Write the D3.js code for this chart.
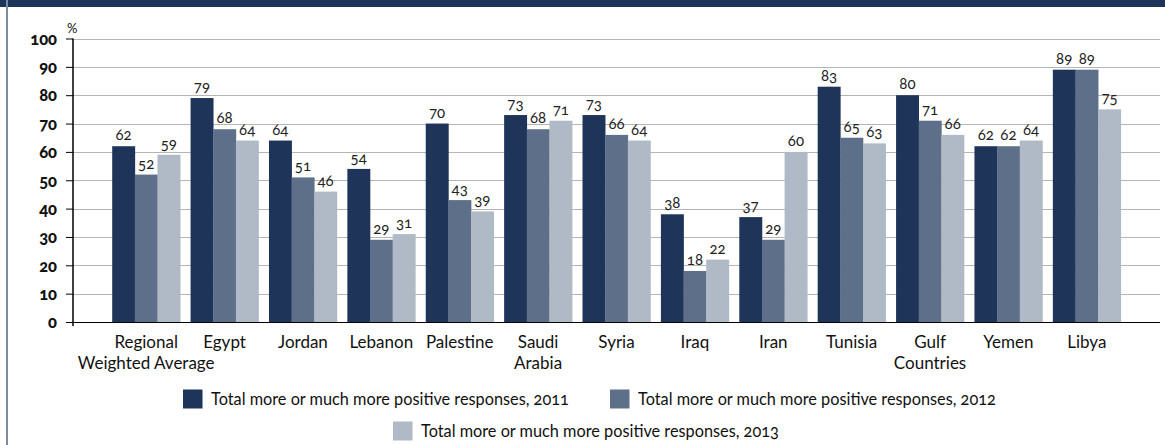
<!DOCTYPE html>
<html><head><meta charset="utf-8">
<script src="https://cdn.jsdelivr.net/npm/d3@7"></script>
<style>
body{margin:0;background:#fff;}
svg{display:block;font-family:Lato, "Open Sans", sans-serif;}
.num{font-variant-numeric:oldstyle-nums;font-feature-settings:"onum" 1;}
</style></head><body>
<svg id="c" width="1165" height="445"></svg>
<script>
const categories = [["Regional","Weighted Average"],["Egypt"],["Jordan"],["Lebanon"],["Palestine"],["Saudi","Arabia"],["Syria"],["Iraq"],["Iran"],["Tunisia"],["Gulf","Countries"],["Yemen"],["Libya"]];
const v2011 = [62,79,64,54,70,73,73,38,37,83,80,62,89];
const v2012 = [52,68,51,29,43,68,66,18,29,65,71,62,89];
const v2013 = [59,64,46,31,39,71,64,22,60,63,66,64,75];
const seriesNames = ["Total more or much more positive responses, 2011","Total more or much more positive responses, 2012","Total more or much more positive responses, 2013"];
const yTicks = [0,10,20,30,40,50,60,70,80,90,100];
const colors = ["#1f3459","#5e6f8a","#b0b9c6"];

const svg = d3.select("#c");
// frame
svg.append("rect").attr("x",0).attr("y",0).attr("width",1165).attr("height",7).attr("fill","#1f3459");
svg.append("line").attr("x1",7).attr("x2",7).attr("y1",0).attr("y2",445).attr("stroke","#7d8ba3").attr("stroke-width",2);

const series = [v2011,v2012,v2013];
const x = d3.scaleBand().domain(d3.range(categories.length)).range([73,1160]).paddingInner(0.133).paddingOuter(0.5);
const xs = d3.scaleBand().domain([0,1,2]).range([0,x.bandwidth()]);
const y = d3.scaleLinear().domain([0,100]).range([322,38.5]);

// gridlines
svg.append("g").selectAll("line").data(yTicks.filter(d=>d>0)).join("line")
  .attr("x1",73).attr("x2",1160).attr("y1",d=>Math.round(y(d))+0.5).attr("y2",d=>Math.round(y(d))+0.5)
  .attr("stroke","#b5b5b5").attr("stroke-width",1);

// bars
const g = svg.append("g");
series.forEach((vals,si)=>{
  g.append("g").selectAll("rect").data(vals).join("rect")
    .attr("x",(d,i)=>x(i)+xs(si)).attr("width",xs.bandwidth()+0.3)
    .attr("y",d=>y(d)).attr("height",d=>y(0)-y(d)).attr("fill",colors[si]);
  g.append("g").selectAll("text").data(vals).join("text").attr("class","num")
    .attr("x",(d,i)=>x(i)+xs(si)+xs.bandwidth()/2).attr("y",d=>y(d)-6)
    .attr("text-anchor","middle").attr("font-size",15).attr("fill","#222").text(d=>d);
});

// y axis
const yAxis = d3.axisLeft(y).tickValues(yTicks).tickSize(7).tickPadding(9);
const ya = svg.append("g").attr("transform","translate(73,0)").call(yAxis);
ya.select(".domain").attr("d","M0,38.5V326").attr("stroke","#000").attr("stroke-width",1.5);
ya.selectAll(".tick line").attr("stroke","#000");
ya.selectAll(".tick text").attr("class","num").attr("font-family","Lato, sans-serif").attr("font-weight","900").attr("font-size",16.5).attr("fill","#111").attr("dy","0.35em");
svg.append("text").attr("x",67).attr("y",33).attr("font-size",13).attr("fill","#111").text("%");

// x baseline
svg.append("line").attr("x1",66).attr("x2",1160).attr("y1",y(0)+0.5).attr("y2",y(0)+0.5).attr("stroke","#000").attr("stroke-width",1.2);

// category labels
const cl = svg.append("g").selectAll("text").data(categories).join("text")
  .attr("x",(d,i)=>x(i)+x.bandwidth()/2).attr("y",348).attr("text-anchor","middle")
  .attr("font-size",17).attr("fill","#111");
cl.selectAll("tspan").data(d=>d).join("tspan").attr("x",function(){return this.parentNode.getAttribute("x");})
  .attr("dy",(d,i)=>i===0?0:21).text(d=>d);

// legend
const legPos = [[183,399],[610,399],[393,431]];
const lg = svg.append("g").selectAll("g").data(seriesNames).join("g")
  .attr("transform",(d,i)=>`translate(${legPos[i][0]},${legPos[i][1]})`);
lg.append("rect").attr("x",0).attr("y",-9.5).attr("width",19.5).attr("height",19).attr("fill",(d,i)=>colors[i]);
lg.append("text").attr("class","num").attr("x",28).attr("y",6).attr("font-size",16.3).attr("fill","#111").text(d=>d);
</script></body></html>
